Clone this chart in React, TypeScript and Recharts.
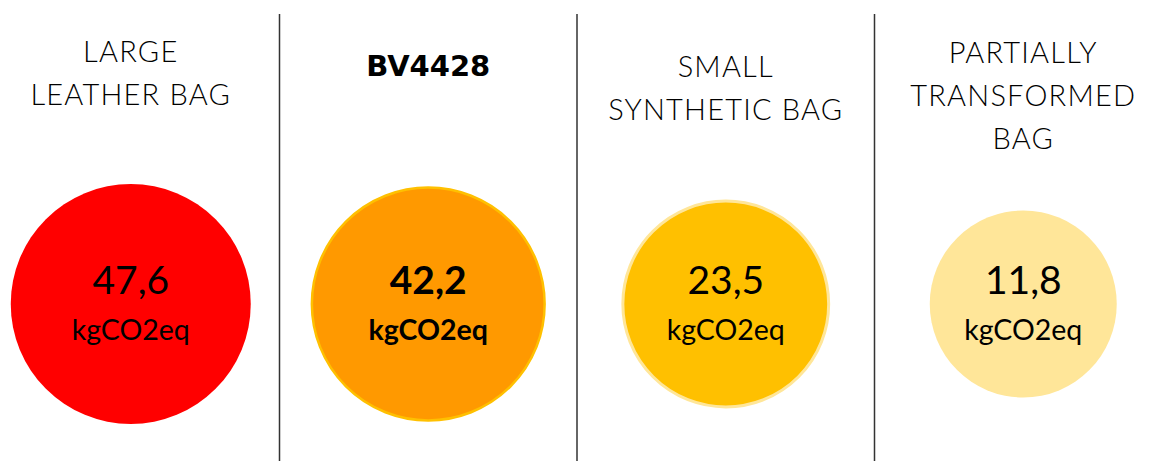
import { ScatterChart, Scatter, XAxis, YAxis, ZAxis, ReferenceLine } from 'recharts'

// data
const titles: string[][] = [
  ['LARGE', 'LEATHER BAG'],
  ['BV4428'],
  ['SMALL', 'SYNTHETIC BAG'],
  ['PARTIALLY', 'TRANSFORMED', 'BAG'],
]
const footprints = [47.6, 42.2, 23.5, 11.8]
const unit = 'kgCO2eq'
const highlighted = 1 // BV4428 is the bold column

// styles / layout
const FILLS = ['#ff0000', '#ff9900', '#ffc000', '#ffe699']
const STROKES = ['none', '#ffc000', '#ffe699', 'none']
const STROKE_W = [0, 2.5, 3, 0]
const TITLE_BASELINES = [62, 76, 77, 63]
const LINE_GAP = 43

const W = 1149
const H = 461
const CHART_W = 1190
const SHIFT = -18
const TOP = 14
const CENTER_Y = 304
const Y_MAX = (H - TOP) / (H - CENTER_Y)
const R_MIN = 93.5
const R_MAX = 120

const data = footprints.map((v, i) => ({ x: i + 0.5, y: 1, value: v, idx: i }))

function Bubble(props: any) {
  const { cx, cy, size, width, payload } = props
  const i = payload.idx
  const r = size ? Math.sqrt(size / Math.PI) : width / 2
  const bold = i === highlighted
  const label = payload.value.toFixed(1).replace('.', ',')
  return (
    <g>
      <circle cx={cx} cy={cy} r={r} fill={FILLS[i]} stroke={STROKES[i]} strokeWidth={STROKE_W[i]} />
      <text x={cx} y={cy - 10} textAnchor="middle" fontFamily="Lato" fontSize={39} fontWeight={bold ? 700 : 400} fill="#000">
        {label}
      </text>
      <text x={cx} y={cy + 36} textAnchor="middle" fontFamily="Lato" fontSize={28.5} fontWeight={bold ? 700 : 400} fill="#000">
        {unit}
      </text>
      {titles[i].map((line, k) => (
        <text
          key={k}
          x={cx}
          y={TITLE_BASELINES[i] + k * LINE_GAP}
          textAnchor="middle"
          fontFamily={bold ? 'DejaVu Sans' : 'Lato'}
          fontSize={bold ? 29 : 29}
          fontWeight={bold ? 700 : 300}
          letterSpacing={bold ? 0 : 1.2}
          fill="#000"
        >
          {line}
        </text>
      ))}
    </g>
  )
}

export default function App() {
  return (
    <div style={{ width: W, height: H, overflow: 'hidden', background: '#fff' }}>
      <style>{'body{margin:0}'}</style>
      <div style={{ marginLeft: SHIFT }}>
        <ScatterChart width={CHART_W} height={H} margin={{ top: TOP, right: 0, bottom: 0, left: 0 }}>
          <XAxis type="number" dataKey="x" domain={[0, 4]} hide allowDataOverflow />
          <YAxis type="number" dataKey="y" domain={[0, Y_MAX]} hide allowDataOverflow />
          <ZAxis
            type="number"
            dataKey="value"
            domain={[Math.min(...footprints), Math.max(...footprints)]}
            range={[Math.PI * R_MIN * R_MIN, Math.PI * R_MAX * R_MAX]}
          />
          {[1, 2, 3].map((x) => (
            <ReferenceLine key={x} x={x} stroke="#333" strokeWidth={1.5} />
          ))}
          <Scatter data={data} shape={(p: any) => <Bubble {...p} />} isAnimationActive={false} />
        </ScatterChart>
      </div>
    </div>
  )
}
